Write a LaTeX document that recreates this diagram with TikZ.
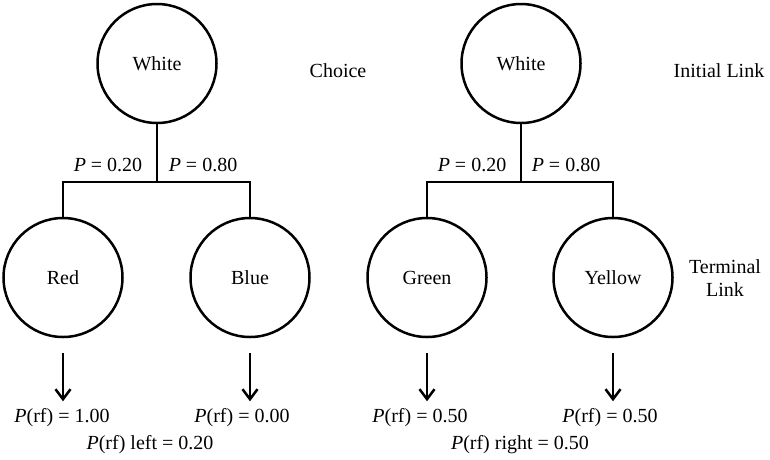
\documentclass[tikz,border=0pt]{standalone}
\usepackage{fontspec}
\setmainfont{Liberation Serif}
\usetikzlibrary{arrows.meta}
\begin{document}
\begin{tikzpicture}[x=1pt,y=-1pt,line width=2.5pt,
  every node/.style={font=\rmfamily\fontsize{20}{23}\selectfont},
  link/.style={circle,draw=black,line width=2.5pt,minimum size=119pt,inner sep=0pt},
  arr/.style={-{Straight Barb[length=10pt,width=15pt,line width=2.5pt]}}]
  \useasboundingbox (0,0) rectangle (770,459);

  % Linke Kette: Wahl
  \node[link] (whitel) at (157,63.5) {White};
  \node[link] (red) at (63,277.5) {Red};
  \node[link] (blue) at (250,277.5) {Blue};
  \coordinate (forkl) at (157,182);

  % Rechte Kette: Initial- und Terminal-Link
  \node[link] (whiter) at (521,63.5) {White};
  \node[link] (green) at (427,277.5) {Green};
  \node[link] (yellow) at (613,277.5) {Yellow};
  \coordinate (forkr) at (521,182);

  % Verzweigungen
  \draw (whitel.south) -- (forkl);
  \draw (red.north) |- (forkl) -| (blue.north);
  \draw (whiter.south) -- (forkr);
  \draw (green.north) |- (forkr) -| (yellow.north);

  % Wahrscheinlichkeiten der Zweige
  \node (pl1) at (108,165) {\textit{P} = 0.20};
  \node (pl2) at (203,165) {\textit{P} = 0.80};
  \node (pr1) at (472,165) {\textit{P} = 0.20};
  \node (pr2) at (566,165) {\textit{P} = 0.80};

  % Verstaerkung
  \node (redp) at (62,418) {\textit{P}(rf) = 1.00};
  \node (bluep) at (242,418) {\textit{P}(rf) = 0.00};
  \node (greenp) at (420,418) {\textit{P}(rf) = 0.50};
  \node (yellowp) at (610,418) {\textit{P}(rf) = 0.50};
  \node (leftp) at (150,445) {\textit{P}(rf) left = 0.20};
  \node (rightp) at (520,445) {\textit{P}(rf) right = 0.50};

  \foreach \c/\p in {red/redp, blue/bluep, green/greenp, yellow/yellowp}
    \draw[arr, shorten <=15pt, shorten >=3pt] (\c.south) -- (\c.south |- \p.north);

  % Beschriftungen rechts
  \node (choice) at (338,71) {Choice};
  \node (initial) at (719,71) {Initial Link};
  \node[align=center] (terminal) at (725,278) {Terminal\\Link};
\end{tikzpicture}
\end{document}
